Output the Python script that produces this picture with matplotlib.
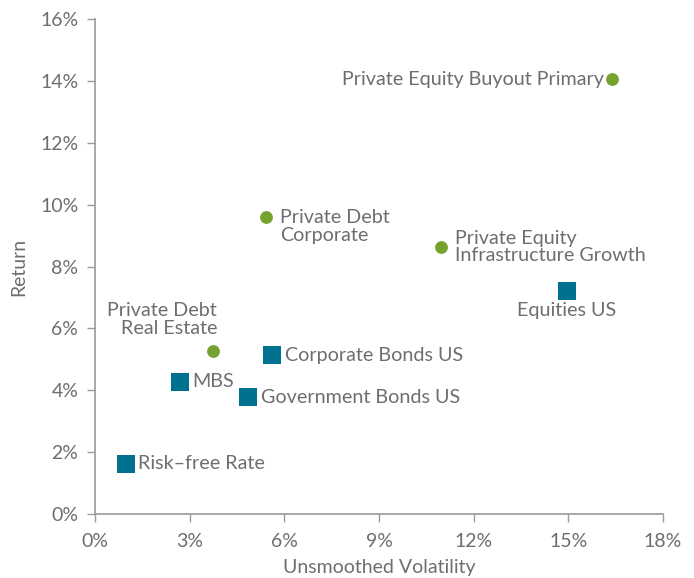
import matplotlib
matplotlib.use("Agg")
import matplotlib.pyplot as plt
from matplotlib.ticker import FuncFormatter, MultipleLocator

plt.rcParams['font.family'] = ['Lato', 'DejaVu Sans']

# Private assets (green circles)
priv_names = ["Private Equity Buyout Primary", "Private Debt\nCorporate",
              "Private Equity\nInfrastructure Growth", "Private Debt\nReal Estate"]
priv_vol = [16.4, 5.42, 10.96, 3.74]
priv_ret = [14.05, 9.6, 8.63, 5.27]

# Public assets (teal squares)
pub_names = ["Equities US", "Corporate Bonds US", "MBS", "Government Bonds US", "Risk\u2013free Rate"]
pub_vol = [14.96, 5.61, 2.69, 4.85, 0.98]
pub_ret = [7.21, 5.14, 4.27, 3.78, 1.62]

GREEN = "#76a22f"
TEAL = "#00718f"
GRAY = "#6d6e71"
AX = "#9a9a9a"

fig = plt.figure(figsize=(6.94, 5.78), dpi=100)
ax = fig.add_axes([0.1369, 0.1107, 0.8184, 0.8563])

ax.scatter(priv_vol, priv_ret, s=85, marker='o', color=GREEN, linewidths=0, zorder=3)
ax.scatter(pub_vol, pub_ret, s=160, marker='s', color=TEAL, linewidths=0, zorder=3)

fs = 14.2
# label placements: (dx, dy) in points, ha, va
priv_pos = [((-6, 0), 'right', 'center'),
            ((10, -7), 'left', 'center'),
            ((10, 0), 'left', 'center'),
            ((3, 10), 'right', 'bottom')]
pub_pos = [((0, -8), 'center', 'top'),
           ((9, 0), 'left', 'center'),
           ((9, 0), 'left', 'center'),
           ((9, 0), 'left', 'center'),
           ((9, 0), 'left', 'center')]

for n, x, y, (off, ha, va) in zip(priv_names, priv_vol, priv_ret, priv_pos):
    ax.annotate(n, (x, y), xytext=off, textcoords='offset points', ha=ha, va=va,
                fontsize=fs, color=GRAY, linespacing=1.05,
                multialignment='right' if ha == 'right' else 'left')
for n, x, y, (off, ha, va) in zip(pub_names, pub_vol, pub_ret, pub_pos):
    ax.annotate(n, (x, y), xytext=off, textcoords='offset points', ha=ha, va=va,
                fontsize=fs, color=GRAY)

ax.set_xlim(0, 18)
ax.set_ylim(0, 16)
ax.xaxis.set_major_locator(MultipleLocator(3))
ax.yaxis.set_major_locator(MultipleLocator(2))
ax.xaxis.set_major_formatter(FuncFormatter(lambda v, p: f"{v:.0f}%"))
ax.yaxis.set_major_formatter(FuncFormatter(lambda v, p: f"{v:.0f}%"))

for s in ['top', 'right']:
    ax.spines[s].set_visible(False)
for s in ['left', 'bottom']:
    ax.spines[s].set_color(AX)
    ax.spines[s].set_linewidth(1.2)
ax.tick_params(axis='both', colors=AX, length=6, width=1, labelcolor=GRAY,
               labelsize=14, pad=6)
ax.tick_params(axis='x', pad=8)

ax.set_xlabel("Unsmoothed Volatility", fontsize=14, color=GRAY, labelpad=6)
ax.set_ylabel("Return", fontsize=14, color=GRAY, labelpad=9)

fig.savefig("out.png", dpi=100)
